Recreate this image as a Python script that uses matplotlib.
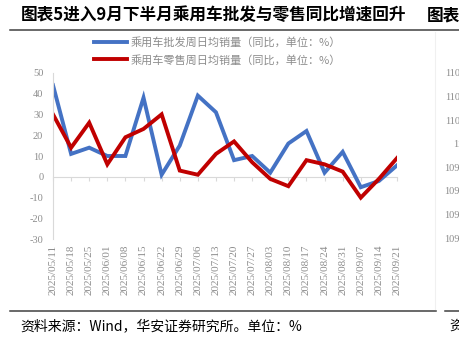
import matplotlib
matplotlib.use('Agg')
import matplotlib.pyplot as plt
from matplotlib.lines import Line2D

plt.rcParams['font.family'] = ['Noto Sans CJK SC', 'DejaVu Sans']

# Data
dates = ['2025/05/11', '2025/05/18', '2025/05/25', '2025/06/01', '2025/06/08',
         '2025/06/15', '2025/06/22', '2025/06/29', '2025/07/06', '2025/07/13',
         '2025/07/20', '2025/07/27', '2025/08/03', '2025/08/10', '2025/08/17',
         '2025/08/24', '2025/08/31', '2025/09/07', '2025/09/14', '2025/09/21']
wholesale = [44, 11, 14, 10, 10, 38, 1, 15, 39, 31,
             8, 10, 2, 16, 22, 2, 12, -5, -2, 5.5]
retail = [30, 14, 26, 6, 19, 23, 30, 3, 1, 11,
          17, 7, -1, -4.5, 8, 6, 2.5, -10, -1, 9]
yticks = [50, 40, 30, 20, 10, 0, -10, -20, -30]
right_labels = ['1100.6', '1100.4', '1100.2', '1100', '1099.8', '1099.6', '1099.4', '1099.2']

label_w = '乘用车批发周日均销量（同比，单位：%）'
label_r = '乘用车零售周日均销量（同比，单位：%）'

W, H = 459, 342
fig = plt.figure(figsize=(W / 100, H / 100), dpi=100)

# plot area in pixels
left, right, top, bottom = 53, 397, 72.7, 239.3
ax = fig.add_axes([left / W, 1 - bottom / H, (right - left) / W, (bottom - top) / H])

x = list(range(len(dates)))
ax.plot(x, wholesale, color='#4472C4', linewidth=2.8, solid_joinstyle='miter', label=label_w)
ax.plot(x, retail, color='#C00000', linewidth=2.8, solid_joinstyle='miter', label=label_r)

ax.set_xlim(0, len(dates) - 1)
ax.set_ylim(-30, 50)
ax.set_yticks(yticks)
ax.set_yticklabels([str(v) for v in yticks], family='Liberation Serif', fontsize=7.5, color='#8c8c8c')
ax.tick_params(axis='y', length=0, pad=7)

# category axis sits on zero, labels at the bottom
for s in ['top', 'right']:
    ax.spines[s].set_visible(False)
ax.spines['left'].set_color('#d9d9d9')
ax.spines['bottom'].set_position(('data', 0))
ax.spines['bottom'].set_color('#d9d9d9')
ax.spines['bottom'].set_zorder(0)
ax.set_xticks(x)
ax.tick_params(axis='x', length=3, color='#d9d9d9', labelbottom=False)

sec = ax.secondary_xaxis(0)
sec.set_xticks(x)
sec.set_xticklabels(dates, rotation=90, family='Liberation Serif', fontsize=8, color='#8c8c8c')
sec.tick_params(length=0, pad=4)
sec.spines['bottom'].set_visible(False)

# legend
fig.legend(loc='upper left', bbox_to_anchor=(94 / W, 1 - 37 / H), frameon=False,
           fontsize=8, handlelength=3.0, handletextpad=0.3, labelspacing=0.6,
           borderpad=0, borderaxespad=0, labelcolor='#8c8c8c')

# title, rules and footer
fig.text(21 / W, 1 - 15 / H, '图表5进入9月下半月乘用车批发与零售同比增速回升',
         fontsize=12, fontweight='bold', va='center', ha='left')
fig.text(427 / W, 1 - 15 / H, '图表', fontsize=12, fontweight='bold', va='center', ha='left')
fig.add_artist(Line2D([10 / W, 1], [1 - 30 / H, 1 - 30 / H], color='#404040', linewidth=1.1))
fig.add_artist(Line2D([10 / W, 436 / W], [1 - 311 / H, 1 - 311 / H], color='#404040', linewidth=1.1))
fig.add_artist(Line2D([445 / W, 1], [1 - 311 / H, 1 - 311 / H], color='#404040', linewidth=1.1))
fig.add_artist(Line2D([435 / W, 435 / W], [1 - 32 / H, 1 - 309 / H], color='#f0f0f0', linewidth=0.8))
fig.text(20 / W, 1 - 326 / H, '资料来源：Wind，华安证券研究所。单位：%', fontsize=10,
         va='center', ha='left')
fig.text(449 / W, 1 - 326 / H, '资', fontsize=10, va='center', ha='left')

# neighbouring chart's axis labels, cut off at the edge as in the source page
for i, lab in enumerate(right_labels):
    fig.text(473 / W, 1 - (74 + i * 23.6) / H, lab, family='Liberation Serif', fontsize=7.5,
             color='#8c8c8c', va='center', ha='right')

fig.savefig('out.png', dpi=100)
